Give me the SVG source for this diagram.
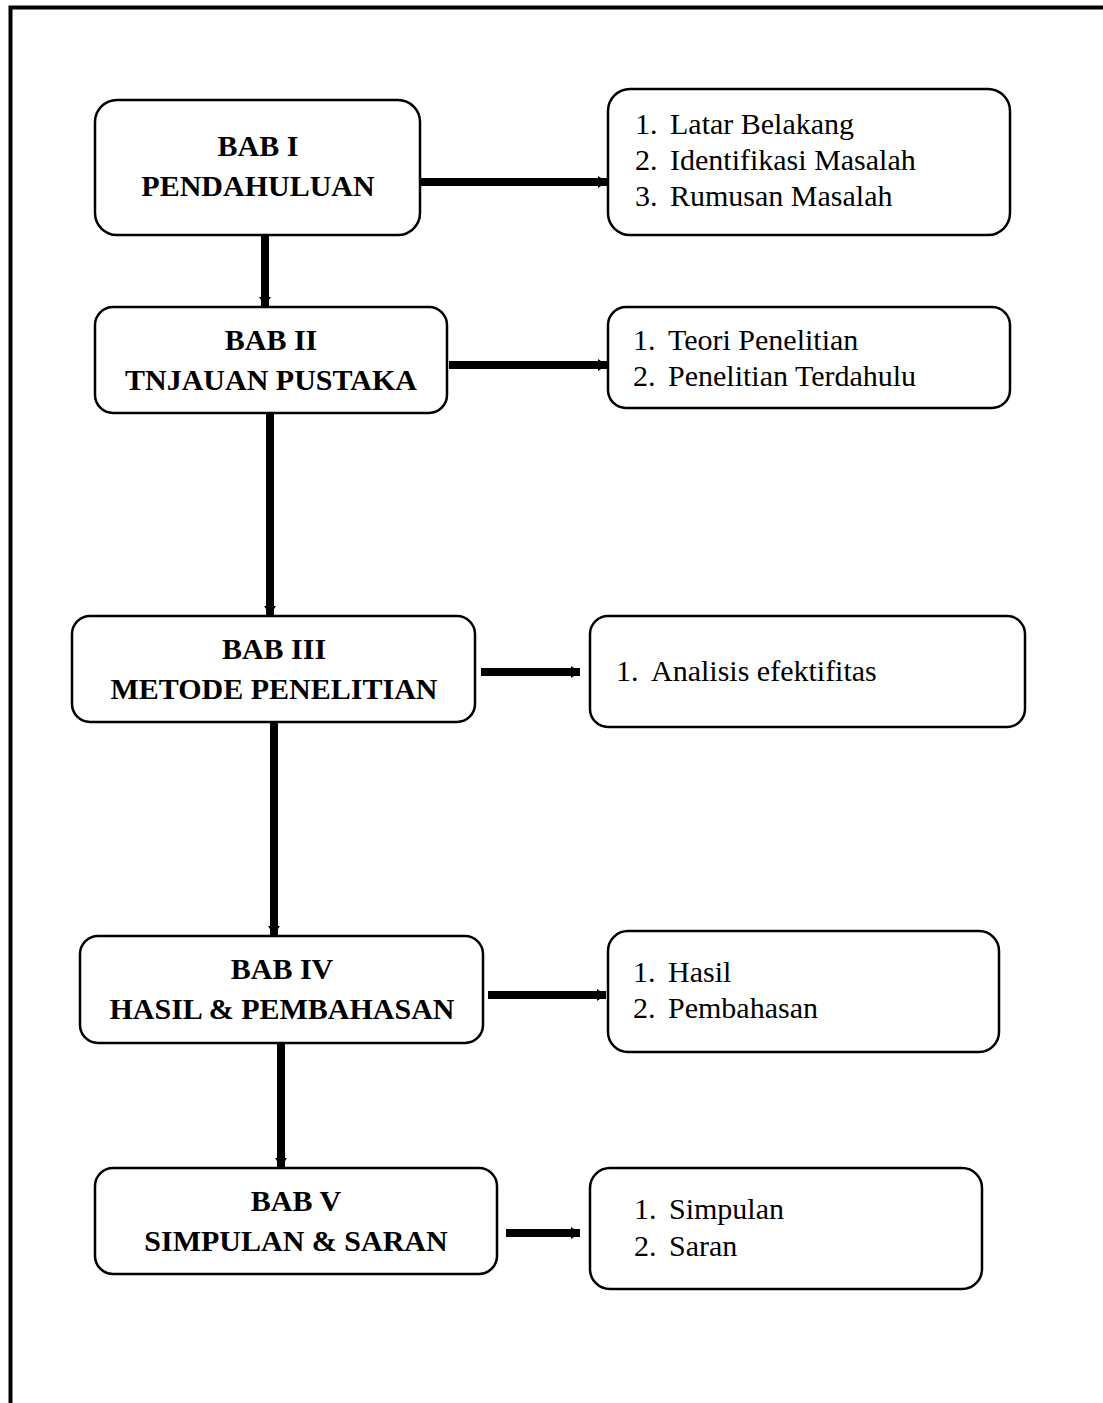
<svg xmlns="http://www.w3.org/2000/svg" width="1103" height="1403" viewBox="0 0 1103 1403">
<style>
.box{fill:#fff;stroke:#000;stroke-width:2.5}
.h{font-family:"Liberation Serif",serif;font-weight:bold;font-size:30px;text-anchor:middle}
.t{font-family:"Liberation Serif",serif;font-size:30px}
.c{stroke:#000;stroke-width:8;fill:none}
</style>
<defs>
<marker id="ah" markerUnits="userSpaceOnUse" markerWidth="10" markerHeight="14" refX="9" refY="7" orient="auto">
<path d="M0,1 L9,7 L0,13 Z" fill="#000"/>
</marker>
</defs>
<rect width="1103" height="1403" fill="#fff"/>
<path d="M10.5,1403 V7.5 H1103" stroke="#000" stroke-width="4" fill="none"/>
<g id="connectors">
<line class="c" x1="421" y1="182" x2="607" y2="182" marker-end="url(#ah)"/>
<line class="c" x1="449" y1="365" x2="607" y2="365" marker-end="url(#ah)"/>
<line class="c" x1="481" y1="672" x2="580" y2="672" marker-end="url(#ah)"/>
<line class="c" x1="488" y1="995" x2="606" y2="995" marker-end="url(#ah)"/>
<line class="c" x1="506" y1="1233" x2="580" y2="1233" marker-end="url(#ah)"/>
<line class="c" x1="265" y1="236" x2="265" y2="306" marker-end="url(#ah)"/>
<line class="c" x1="270" y1="414" x2="270" y2="615" marker-end="url(#ah)"/>
<line class="c" x1="274" y1="723" x2="274" y2="935" marker-end="url(#ah)"/>
<line class="c" x1="281" y1="1044" x2="281" y2="1167" marker-end="url(#ah)"/>
</g>
<g id="bab1"><rect class="box" x="95" y="100" width="325" height="135" rx="22"/>
<text class="h" x="258" y="156">BAB I</text><text class="h" x="258" y="196">PENDAHULUAN</text></g>
<g id="list1"><rect class="box" x="608" y="89" width="402" height="146" rx="22"/>
<text class="t" x="635" y="134">1.</text><text class="t" x="670" y="134">Latar Belakang</text>
<text class="t" x="635" y="170">2.</text><text class="t" x="670" y="170">Identifikasi Masalah</text>
<text class="t" x="635" y="206">3.</text><text class="t" x="670" y="206">Rumusan Masalah</text></g>
<g id="bab2"><rect class="box" x="95" y="307" width="352" height="106" rx="18"/>
<text class="h" x="271" y="350">BAB II</text><text class="h" x="271" y="390">TNJAUAN PUSTAKA</text></g>
<g id="list2"><rect class="box" x="608" y="307" width="402" height="101" rx="18"/>
<text class="t" x="633" y="350">1.</text><text class="t" x="668" y="350">Teori Penelitian</text>
<text class="t" x="633" y="386">2.</text><text class="t" x="668" y="386">Penelitian Terdahulu</text></g>
<g id="bab3"><rect class="box" x="72" y="616" width="403" height="106" rx="18"/>
<text class="h" x="274" y="659">BAB III</text><text class="h" x="274" y="699">METODE PENELITIAN</text></g>
<g id="list3"><rect class="box" x="590" y="616" width="435" height="111" rx="18"/>
<text class="t" x="616" y="681">1.</text><text class="t" x="651" y="681">Analisis efektifitas</text></g>
<g id="bab4"><rect class="box" x="80" y="936" width="403" height="107" rx="18"/>
<text class="h" x="282" y="979">BAB IV</text><text class="h" x="282" y="1019">HASIL &amp; PEMBAHASAN</text></g>
<g id="list4"><rect class="box" x="608" y="931" width="391" height="121" rx="20"/>
<text class="t" x="633" y="982">1.</text><text class="t" x="668" y="982">Hasil</text>
<text class="t" x="633" y="1018">2.</text><text class="t" x="668" y="1018">Pembahasan</text></g>
<g id="bab5"><rect class="box" x="95" y="1168" width="402" height="106" rx="18"/>
<text class="h" x="296" y="1211">BAB V</text><text class="h" x="296" y="1251">SIMPULAN &amp; SARAN</text></g>
<g id="list5"><rect class="box" x="590" y="1168" width="392" height="121" rx="20"/>
<text class="t" x="634" y="1219">1.</text><text class="t" x="669" y="1219">Simpulan</text>
<text class="t" x="634" y="1256">2.</text><text class="t" x="669" y="1256">Saran</text></g>
</svg>
